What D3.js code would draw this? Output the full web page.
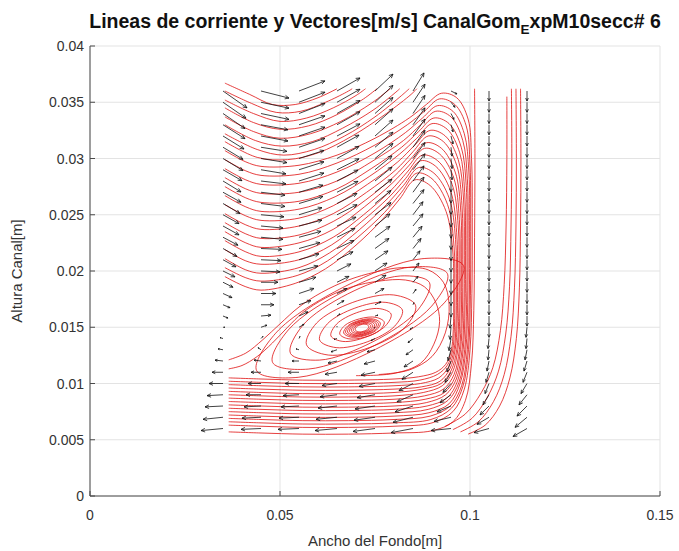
<!DOCTYPE html>
<html>
<head>
<meta charset="utf-8">
<script src="https://cdn.jsdelivr.net/npm/d3@7"></script>
<style>
  body { margin: 0; background: #ffffff; }
  text { font-family: "Liberation Sans", Arial, Helvetica, sans-serif; }
</style>
</head>
<body>
<svg id="chart" width="679" height="551"></svg>
<script>
// ---- axis ticks ----
const xTicks = [0, 0.05, 0.1, 0.15];
const xTickLabels = ["0", "0.05", "0.1", "0.15"];
const yTicks = [0, 0.005, 0.01, 0.015, 0.02, 0.025, 0.03, 0.035, 0.04];
const yTickLabels = ["0", "0.005", "0.01", "0.015", "0.02", "0.025", "0.03", "0.035", "0.04"];

// ---- velocity vectors [m/s] measured on verticals ----
const quiverX = [0.035, 0.045, 0.055, 0.065, 0.075, 0.085, 0.095, 0.105, 0.115];
const quiverY = [0.006, 0.007, 0.008, 0.009, 0.010, 0.011, 0.012, 0.013, 0.014, 0.015,
                 0.016, 0.017, 0.018, 0.019, 0.020, 0.021, 0.022, 0.023, 0.024, 0.025,
                 0.026, 0.027, 0.028, 0.029, 0.030, 0.031, 0.032, 0.033, 0.034, 0.035, 0.036];
const quiverU = [
  [-0.22,-0.20,-0.18,-0.16,-0.14,-0.11,-0.08,-0.05,-0.03,0.02,0.05,0.07,0.09,0.10,0.12,0.13,0.14,0.15,0.16,0.16,0.17,0.18,0.18,0.19,0.20,0.20,0.21,0.22,0.22,0.23,0.24],
  [-0.20,-0.19,-0.17,-0.15,-0.13,-0.10,-0.07,-0.03,0.02,0.06,0.10,0.13,0.15,0.17,0.19,0.20,0.21,0.22,0.22,0.23,0.24,0.24,0.25,0.25,0.26,0.26,0.27,0.27,0.28,0.28,0.28],
  [-0.21,-0.20,-0.18,-0.16,-0.14,-0.11,-0.07,-0.03,0.01,0.05,0.09,0.12,0.15,0.17,0.19,0.20,0.21,0.22,0.23,0.23,0.24,0.24,0.25,0.25,0.25,0.26,0.26,0.26,0.26,0.26,0.26],
  [-0.22,-0.21,-0.19,-0.17,-0.15,-0.12,-0.09,-0.06,-0.03,0.00,0.03,0.07,0.10,0.12,0.14,0.16,0.17,0.18,0.19,0.20,0.20,0.21,0.21,0.22,0.22,0.22,0.23,0.23,0.23,0.23,0.23],
  [-0.22,-0.21,-0.20,-0.18,-0.16,-0.14,-0.11,-0.08,-0.04,-0.01,0.03,0.06,0.09,0.11,0.12,0.13,0.14,0.15,0.15,0.16,0.16,0.17,0.17,0.17,0.18,0.18,0.18,0.18,0.18,0.18,0.18],
  [-0.22,-0.20,-0.18,-0.16,-0.14,-0.11,-0.09,-0.07,-0.05,-0.03,-0.01,0.01,0.03,0.05,0.06,0.07,0.08,0.09,0.10,0.10,0.11,0.11,0.11,0.12,0.12,0.12,0.12,0.12,0.12,0.12,0.11],
  [-0.20,-0.17,-0.14,-0.11,-0.08,-0.06,-0.04,-0.03,-0.02,-0.01,-0.01,0.00,0.00,0.00,0.00,0.00,0.00,0.00,0.00,0.00,0.00,0.00,0.00,0.01,0.01,0.01,0.02,0.02,0.03,0.04,0.06],
  [-0.15,-0.12,-0.09,-0.06,-0.04,-0.03,-0.02,-0.01,-0.01,0.00,0.00,0.00,0.00,0.00,0.00,0.00,0.00,0.00,0.00,0.00,0.00,0.00,0.00,0.00,0.00,0.00,0.00,0.00,0.00,0.00,0.00],
  [-0.14,-0.12,-0.10,-0.08,-0.06,-0.04,-0.03,-0.02,-0.01,-0.01,0.00,0.00,0.00,0.00,0.00,0.00,0.00,0.00,0.00,0.00,0.00,0.00,0.00,0.00,0.00,0.00,0.00,0.00,0.00,0.00,0.00]
];
const quiverV = [
  [-0.007,-0.007,-0.003,-0.003,0,0,0.003,0.003,0.003,0,-0.007,-0.010,-0.014,-0.017,-0.020,-0.024,-0.027,-0.027,-0.030,-0.030,-0.034,-0.034,-0.037,-0.037,-0.041,-0.041,-0.044,-0.047,-0.051,-0.054,-0.057],
  [-0.003,-0.003,-0.003,0,0,0,0.003,0.007,0.007,0.007,0.003,0,0,0,-0.003,-0.003,-0.003,-0.007,-0.007,-0.007,-0.010,-0.010,-0.010,-0.014,-0.014,-0.014,-0.017,-0.017,-0.020,-0.020,-0.024],
  [-0.003,-0.003,-0.003,-0.003,0,0,0,0.003,0.007,0.010,0.014,0.014,0.017,0.017,0.017,0.020,0.020,0.020,0.020,0.024,0.024,0.024,0.027,0.027,0.027,0.030,0.030,0.030,0.034,0.034,0.034],
  [-0.007,-0.007,-0.007,-0.007,-0.007,-0.007,-0.007,-0.007,-0.003,0.003,0.007,0.014,0.017,0.020,0.024,0.027,0.027,0.030,0.030,0.034,0.034,0.037,0.037,0.037,0.041,0.041,0.041,0.044,0.044,0.044,0.044],
  [-0.010,-0.010,-0.010,-0.010,-0.010,-0.010,-0.010,-0.007,-0.007,-0.003,0.003,0.010,0.017,0.024,0.027,0.030,0.034,0.037,0.041,0.041,0.044,0.044,0.047,0.047,0.051,0.051,0.054,0.054,0.054,0.057,0.057],
  [-0.014,-0.017,-0.020,-0.024,-0.024,-0.024,-0.020,-0.017,-0.014,-0.007,0,0.007,0.014,0.020,0.027,0.030,0.034,0.037,0.041,0.044,0.047,0.051,0.051,0.054,0.054,0.057,0.057,0.057,0.061,0.061,0.061],
  [-0.007,-0.014,-0.020,-0.027,-0.030,-0.034,-0.037,-0.037,-0.041,-0.041,-0.041,-0.041,-0.041,-0.041,-0.041,-0.041,-0.041,-0.041,-0.041,-0.041,-0.037,-0.037,-0.037,-0.034,-0.034,-0.030,-0.027,-0.024,-0.020,-0.017,-0.010],
  [-0.014,-0.024,-0.030,-0.034,-0.034,-0.034,-0.034,-0.034,-0.034,-0.034,-0.034,-0.034,-0.034,-0.034,-0.034,-0.034,-0.034,-0.034,-0.034,-0.034,-0.034,-0.034,-0.034,-0.034,-0.034,-0.034,-0.034,-0.034,-0.034,-0.034,-0.034],
  [-0.027,-0.034,-0.034,-0.034,-0.034,-0.034,-0.034,-0.034,-0.034,-0.034,-0.034,-0.034,-0.034,-0.034,-0.034,-0.034,-0.034,-0.034,-0.034,-0.034,-0.034,-0.034,-0.034,-0.034,-0.034,-0.034,-0.034,-0.034,-0.034,-0.034,-0.034]
];
const quiverScale = 1 / 38; // seconds: arrow length [m] = velocity * scale

// ---- streamlines [x, y] in metres ----
const streamOpen = [
  // leaving through the free surface
  [[0.0355,0.0367],[0.0420,0.0357],[0.0480,0.0348],[0.0540,0.0348],[0.0600,0.0354],[0.0650,0.0362]],
  [[0.0355,0.0360],[0.0425,0.0349],[0.0490,0.0341],[0.0555,0.0342],[0.0620,0.0350],[0.0675,0.0359],[0.0690,0.0362]],
  [[0.0355,0.0352],[0.0430,0.0340],[0.0500,0.0333],[0.0570,0.0336],[0.0640,0.0345],[0.0700,0.0356],[0.0725,0.0362]],
  [[0.0355,0.0345],[0.0430,0.0332],[0.0500,0.0326],[0.0575,0.0329],[0.0650,0.0339],[0.0720,0.0353],[0.0755,0.0362]],
  [[0.0355,0.0337],[0.0430,0.0324],[0.0500,0.0318],[0.0580,0.0322],[0.0660,0.0333],[0.0740,0.0349],[0.0790,0.0362]],
  [[0.0355,0.0330],[0.0435,0.0316],[0.0505,0.0311],[0.0585,0.0315],[0.0665,0.0327],[0.0745,0.0343],[0.0805,0.0359],[0.0815,0.0362]],
  [[0.0355,0.0322],[0.0440,0.0308],[0.0510,0.0303],[0.0590,0.0308],[0.0670,0.0320],[0.0750,0.0337],[0.0820,0.0356],[0.0840,0.0362]],
  [[0.0355,0.0315],[0.0440,0.0301],[0.0520,0.0299],[0.0600,0.0305],[0.0690,0.0320],[0.0780,0.0340],[0.0845,0.0357],[0.0860,0.0362]],
  // turning over the top, down the right wall and back along the bed
  [[0.0355,0.0307],[0.0410,0.0297],[0.0450,0.0293],[0.0550,0.0294],[0.0650,0.0303],[0.0750,0.0318],[0.0840,0.0336],[0.0885,0.0348],[0.0925,0.0358],[0.0965,0.0354],[0.0995,0.0335],[0.1004,0.0300],[0.1006,0.0240],[0.1005,0.0180],[0.1000,0.0130],[0.0985,0.0095],[0.0955,0.0075],[0.0900,0.0065],[0.0800,0.0062],[0.0680,0.0061],[0.0560,0.0061],[0.0450,0.0062],[0.0365,0.0063]],
  [[0.0355,0.0299],[0.0410,0.0289],[0.0450,0.0285],[0.0550,0.0286],[0.0650,0.0296],[0.0750,0.0312],[0.0835,0.0330],[0.0880,0.0342],[0.0920,0.0353],[0.0960,0.0348],[0.0990,0.0329],[0.1000,0.0294],[0.1002,0.0235],[0.1001,0.0178],[0.0996,0.0130],[0.0981,0.0097],[0.0951,0.0078],[0.0897,0.0068],[0.0800,0.0065],[0.0680,0.0064],[0.0560,0.0064],[0.0450,0.0065],[0.0365,0.0066]],
  [[0.0355,0.0291],[0.0410,0.0281],[0.0450,0.0277],[0.0550,0.0278],[0.0650,0.0288],[0.0750,0.0305],[0.0830,0.0323],[0.0875,0.0336],[0.0915,0.0347],[0.0955,0.0342],[0.0985,0.0322],[0.0997,0.0288],[0.0999,0.0230],[0.0998,0.0175],[0.0993,0.0130],[0.0978,0.0098],[0.0948,0.0080],[0.0895,0.0071],[0.0800,0.0068],[0.0680,0.0067],[0.0560,0.0067],[0.0450,0.0068],[0.0365,0.0069]],
  [[0.0355,0.0283],[0.0410,0.0273],[0.0450,0.0269],[0.0550,0.0270],[0.0650,0.0280],[0.0745,0.0298],[0.0825,0.0316],[0.0870,0.0330],[0.0910,0.0342],[0.0950,0.0337],[0.0981,0.0316],[0.0993,0.0282],[0.0995,0.0226],[0.0994,0.0172],[0.0989,0.0130],[0.0974,0.0100],[0.0945,0.0082],[0.0892,0.0074],[0.0800,0.0071],[0.0680,0.0070],[0.0560,0.0070],[0.0450,0.0071],[0.0365,0.0072]],
  [[0.0355,0.0275],[0.0410,0.0265],[0.0450,0.0261],[0.0550,0.0262],[0.0650,0.0273],[0.0740,0.0291],[0.0820,0.0310],[0.0865,0.0324],[0.0905,0.0336],[0.0945,0.0331],[0.0977,0.0310],[0.0990,0.0276],[0.0992,0.0222],[0.0991,0.0170],[0.0986,0.0130],[0.0971,0.0101],[0.0942,0.0085],[0.0890,0.0077],[0.0800,0.0074],[0.0680,0.0073],[0.0560,0.0073],[0.0450,0.0074],[0.0365,0.0075]],
  [[0.0355,0.0267],[0.0410,0.0257],[0.0450,0.0253],[0.0550,0.0255],[0.0645,0.0266],[0.0735,0.0284],[0.0815,0.0304],[0.0860,0.0318],[0.0900,0.0331],[0.0940,0.0326],[0.0973,0.0305],[0.0986,0.0270],[0.0988,0.0218],[0.0987,0.0168],[0.0982,0.0130],[0.0967,0.0102],[0.0939,0.0087],[0.0887,0.0080],[0.0800,0.0077],[0.0680,0.0076],[0.0560,0.0076],[0.0450,0.0077],[0.0365,0.0078]],
  [[0.0355,0.0259],[0.0410,0.0249],[0.0450,0.0245],[0.0550,0.0247],[0.0640,0.0258],[0.0730,0.0277],[0.0810,0.0297],[0.0855,0.0312],[0.0895,0.0325],[0.0935,0.0320],[0.0969,0.0299],[0.0983,0.0264],[0.0985,0.0214],[0.0984,0.0165],[0.0979,0.0130],[0.0964,0.0104],[0.0936,0.0090],[0.0885,0.0083],[0.0800,0.0080],[0.0680,0.0079],[0.0560,0.0079],[0.0450,0.0080],[0.0365,0.0081]],
  [[0.0355,0.0251],[0.0410,0.0241],[0.0450,0.0237],[0.0550,0.0240],[0.0640,0.0251],[0.0728,0.0270],[0.0805,0.0290],[0.0850,0.0306],[0.0890,0.0320],[0.0930,0.0315],[0.0965,0.0294],[0.0979,0.0258],[0.0981,0.0210],[0.0980,0.0162],[0.0975,0.0130],[0.0961,0.0106],[0.0933,0.0092],[0.0882,0.0086],[0.0800,0.0083],[0.0680,0.0082],[0.0560,0.0082],[0.0450,0.0083],[0.0365,0.0084]],
  [[0.0355,0.0243],[0.0410,0.0233],[0.0450,0.0229],[0.0550,0.0232],[0.0640,0.0244],[0.0725,0.0263],[0.0800,0.0284],[0.0845,0.0300],[0.0885,0.0314],[0.0925,0.0309],[0.0961,0.0288],[0.0976,0.0252],[0.0978,0.0205],[0.0977,0.0160],[0.0972,0.0130],[0.0958,0.0108],[0.0930,0.0095],[0.0880,0.0089],[0.0800,0.0086],[0.0680,0.0085],[0.0560,0.0085],[0.0450,0.0086],[0.0365,0.0087]],
  [[0.0355,0.0235],[0.0410,0.0225],[0.0450,0.0221],[0.0550,0.0225],[0.0640,0.0237],[0.0722,0.0257],[0.0795,0.0278],[0.0840,0.0294],[0.0880,0.0309],[0.0920,0.0304],[0.0957,0.0283],[0.0972,0.0246],[0.0974,0.0200],[0.0973,0.0158],[0.0968,0.0130],[0.0954,0.0110],[0.0927,0.0098],[0.0877,0.0092],[0.0800,0.0089],[0.0680,0.0088],[0.0560,0.0088],[0.0450,0.0089],[0.0365,0.0090]],
  [[0.0355,0.0227],[0.0410,0.0217],[0.0450,0.0213],[0.0550,0.0217],[0.0640,0.0230],[0.0720,0.0250],[0.0790,0.0271],[0.0835,0.0288],[0.0875,0.0303],[0.0915,0.0298],[0.0953,0.0277],[0.0969,0.0240],[0.0971,0.0196],[0.0970,0.0155],[0.0965,0.0130],[0.0951,0.0112],[0.0924,0.0100],[0.0875,0.0095],[0.0800,0.0092],[0.0680,0.0091],[0.0560,0.0091],[0.0450,0.0092],[0.0365,0.0093]],
  [[0.0355,0.0219],[0.0410,0.0209],[0.0450,0.0206],[0.0550,0.0210],[0.0635,0.0223],[0.0715,0.0244],[0.0785,0.0265],[0.0830,0.0282],[0.0870,0.0298],[0.0910,0.0293],[0.0949,0.0271],[0.0965,0.0234],[0.0967,0.0192],[0.0966,0.0153],[0.0961,0.0130],[0.0947,0.0113],[0.0921,0.0102],[0.0872,0.0097],[0.0800,0.0095],[0.0680,0.0094],[0.0560,0.0094],[0.0450,0.0095],[0.0365,0.0096]],
  [[0.0355,0.0211],[0.0410,0.0201],[0.0450,0.0198],[0.0550,0.0203],[0.0630,0.0216],[0.0710,0.0237],[0.0780,0.0259],[0.0825,0.0276],[0.0865,0.0292],[0.0905,0.0287],[0.0945,0.0265],[0.0962,0.0228],[0.0964,0.0188],[0.0963,0.0152],[0.0958,0.0130],[0.0944,0.0115],[0.0918,0.0105],[0.0870,0.0100],[0.0800,0.0098],[0.0680,0.0097],[0.0560,0.0097],[0.0450,0.0098],[0.0365,0.0099]],
  [[0.0355,0.0203],[0.0410,0.0194],[0.0450,0.0191],[0.0545,0.0196],[0.0625,0.0209],[0.0705,0.0230],[0.0775,0.0252],[0.0820,0.0270],[0.0860,0.0287],[0.0900,0.0282],[0.0941,0.0259],[0.0958,0.0222],[0.0960,0.0184],[0.0959,0.0150],[0.0954,0.0129],[0.0940,0.0116],[0.0914,0.0108],[0.0868,0.0103],[0.0800,0.0101],[0.0680,0.0100],[0.0560,0.0100],[0.0450,0.0101],[0.0365,0.0102]],
  [[0.0355,0.0195],[0.0410,0.0186],[0.0450,0.0183],[0.0540,0.0189],[0.0620,0.0202],[0.0700,0.0223],[0.0770,0.0246],[0.0815,0.0264],[0.0855,0.0281],[0.0895,0.0276],[0.0937,0.0253],[0.0955,0.0216],[0.0957,0.0180],[0.0956,0.0148],[0.0950,0.0128],[0.0936,0.0117],[0.0910,0.0110],[0.0865,0.0106],[0.0800,0.0104],[0.0680,0.0103],[0.0560,0.0103],[0.0450,0.0104],[0.0365,0.0105]],
  // entering at the surface next to the right wall
  [[0.1012,0.0362],[0.1013,0.0300],[0.1012,0.0230],[0.1010,0.0165],[0.1004,0.0118],[0.0988,0.0085],[0.0955,0.0066],[0.0900,0.0058],[0.0800,0.0056],[0.0680,0.0055],[0.0560,0.0055],[0.0450,0.0056],[0.0365,0.0057]],
  // wall jet on the right
  [[0.1133,0.0362],[0.1134,0.0300],[0.1133,0.0240],[0.1130,0.0185],[0.1122,0.0140],[0.1105,0.0105],[0.1078,0.0080],[0.1040,0.0063],[0.0995,0.0055]],
  [[0.1121,0.0362],[0.1122,0.0300],[0.1121,0.0240],[0.1117,0.0185],[0.1108,0.0142],[0.1090,0.0108],[0.1062,0.0084],[0.1022,0.0066],[0.0975,0.0057]],
  [[0.1109,0.0362],[0.1110,0.0300],[0.1108,0.0240],[0.1104,0.0186],[0.1094,0.0144],[0.1075,0.0111],[0.1046,0.0088],[0.1005,0.0069],[0.0955,0.0059]],
  [[0.1097,0.0355],[0.1097,0.0300],[0.1095,0.0240],[0.1090,0.0188],[0.1080,0.0147],[0.1060,0.0114],[0.1030,0.0092],[0.0988,0.0073],[0.0935,0.0062]],
  // spiral arms feeding the vortex
  [[0.0365,0.0113],[0.0400,0.0116],[0.0440,0.0124],[0.0480,0.0136],[0.0520,0.0150],[0.0560,0.0163],[0.0620,0.0176],[0.0690,0.0186],[0.0760,0.0191],[0.0830,0.0192],[0.0880,0.0186],[0.0910,0.0172],[0.0920,0.0155],[0.0905,0.0135],[0.0870,0.0118],[0.0800,0.0109],[0.0700,0.0107]],
  [[0.0365,0.0121],[0.0410,0.0127],[0.0455,0.0139],[0.0500,0.0153],[0.0550,0.0168],[0.0610,0.0181],[0.0680,0.0192],[0.0750,0.0199],[0.0820,0.0203],[0.0890,0.0201],[0.0930,0.0190],[0.0945,0.0170],[0.0935,0.0145],[0.0900,0.0124],[0.0840,0.0112],[0.0760,0.0108]]
];
// closed orbits around the vortex core
const streamLoops = [
  [[0.07336,0.01509],[0.07301,0.01483],[0.07182,0.01463],[0.07049,0.01460],[0.06980,0.01477],[0.07015,0.01503],[0.07134,0.01523],[0.07267,0.01526]],
  [[0.07387,0.01514],[0.07340,0.01482],[0.07187,0.01457],[0.07017,0.01453],[0.06929,0.01472],[0.06976,0.01504],[0.07129,0.01529],[0.07300,0.01533]],
  [[0.07438,0.01518],[0.07380,0.01480],[0.07192,0.01450],[0.06984,0.01445],[0.06878,0.01468],[0.06936,0.01506],[0.07124,0.01536],[0.07332,0.01541]],
  [[0.07489,0.01523],[0.07421,0.01478],[0.07199,0.01442],[0.06953,0.01435],[0.06828,0.01463],[0.06895,0.01508],[0.07117,0.01545],[0.07363,0.01551]],
  [[0.07539,0.01528],[0.07458,0.01478],[0.07202,0.01437],[0.06920,0.01429],[0.06777,0.01458],[0.06858,0.01508],[0.07114,0.01549],[0.07396,0.01557]],
  [[0.07590,0.01532],[0.07499,0.01476],[0.07208,0.01430],[0.06888,0.01421],[0.06726,0.01454],[0.06817,0.01510],[0.07108,0.01556],[0.07428,0.01565]],
  [[0.07641,0.01537],[0.07538,0.01475],[0.07213,0.01424],[0.06855,0.01413],[0.06675,0.01449],[0.06778,0.01511],[0.07103,0.01562],[0.07461,0.01573]],
  [[0.07743,0.01546],[0.07618,0.01472],[0.07223,0.01411],[0.06790,0.01398],[0.06573,0.01440],[0.06698,0.01514],[0.07093,0.01575],[0.07526,0.01588]],
  [[0.07924,0.01617],[0.07775,0.01512],[0.07249,0.01411],[0.06655,0.01374],[0.06340,0.01423],[0.06489,0.01528],[0.07015,0.01629],[0.07609,0.01666]],
  [[0.08221,0.01654],[0.08016,0.01509],[0.07294,0.01370],[0.06477,0.01319],[0.06043,0.01386],[0.06248,0.01531],[0.06970,0.01670],[0.07787,0.01721]],
  [[0.08567,0.01696],[0.08299,0.01502],[0.07348,0.01319],[0.06270,0.01253],[0.05697,0.01344],[0.05965,0.01538],[0.06916,0.01721],[0.07994,0.01787]],
  [[0.08934,0.01897],[0.08626,0.01653],[0.07428,0.01368],[0.06040,0.01208],[0.05276,0.01267],[0.05584,0.01511],[0.06782,0.01796],[0.08170,0.01956]],
  [[0.09403,0.01978],[0.08991,0.01688],[0.07475,0.01336],[0.05742,0.01128],[0.04807,0.01186],[0.05219,0.01476],[0.06735,0.01828],[0.08468,0.02036]],
  [[0.09825,0.02050],[0.09324,0.01717],[0.07523,0.01305],[0.05477,0.01055],[0.04385,0.01114],[0.04886,0.01447],[0.06687,0.01859],[0.08733,0.02109]]
];

// ---- layout ----
const W = 679, H = 551;
const plot = { left: 90, right: 660, top: 46, bottom: 496 };
const x = d3.scaleLinear().domain([0, 0.15]).range([plot.left, plot.right]);
const y = d3.scaleLinear().domain([0, 0.04]).range([plot.bottom, plot.top]);

const svg = d3.select("#chart");
svg.append("rect").attr("width", W).attr("height", H).attr("fill", "#ffffff");

// grid
const grid = svg.append("g").attr("stroke", "#e3e3e3").attr("stroke-width", 1);
grid.selectAll("line.gx").data(xTicks).join("line").attr("class", "gx")
  .attr("x1", d => x(d)).attr("x2", d => x(d)).attr("y1", y(0)).attr("y2", y(0.04));
grid.selectAll("line.gy").data(yTicks).join("line").attr("class", "gy")
  .attr("x1", x(0)).attr("x2", x(0.15)).attr("y1", d => y(d)).attr("y2", d => y(d));

// streamlines
const lineGen = d3.line().x(d => x(d[0])).y(d => y(d[1])).curve(d3.curveCatmullRom.alpha(0.5));
const loopGen = d3.line().x(d => x(d[0])).y(d => y(d[1])).curve(d3.curveCatmullRomClosed.alpha(0.5));
const sl = svg.append("g").attr("fill", "none").attr("stroke", "#e01010")
  .attr("stroke-width", 1).attr("stroke-opacity", 0.8);
sl.selectAll("path.open").data(streamOpen).join("path").attr("class", "open").attr("d", lineGen);
sl.selectAll("path.loop").data(streamLoops).join("path").attr("class", "loop").attr("d", loopGen);

// quiver arrows
const arrows = [];
quiverX.forEach((qx, i) => {
  quiverY.forEach((qy, j) => {
    arrows.push({ x0: qx, y0: qy, x1: qx + quiverScale * quiverU[i][j], y1: qy + quiverScale * quiverV[i][j] });
  });
});
const qg = svg.append("g").attr("stroke", "#111").attr("stroke-width", 0.8).attr("fill", "none");
qg.selectAll("path").data(arrows).join("path").attr("d", a => {
  const X0 = x(a.x0), Y0 = y(a.y0), X1 = x(a.x1), Y1 = y(a.y1);
  const dx = X1 - X0, dy = Y1 - Y0, L = Math.hypot(dx, dy);
  if (L < 0.5) return `M${X0},${Y0}L${X0 + 0.5},${Y0}`;
  const ux = dx / L, uy = dy / L, h = Math.min(0.3 * L, 4), w = h * 0.45;
  const bx = X1 - ux * h, by = Y1 - uy * h;
  return `M${X0},${Y0}L${X1},${Y1}M${bx - uy * w},${by + ux * w}L${X1},${Y1}L${bx + uy * w},${by - ux * w}`;
});

// axes
const ax = svg.append("g").attr("stroke", "#4a4a4a").attr("stroke-width", 1).attr("fill", "none");
ax.append("line").attr("x1", x(0)).attr("x2", x(0.15)).attr("y1", y(0)).attr("y2", y(0));
ax.append("line").attr("x1", x(0)).attr("x2", x(0)).attr("y1", y(0)).attr("y2", y(0.04));
ax.selectAll("line.tx").data(xTicks).join("line").attr("class", "tx")
  .attr("x1", d => x(d)).attr("x2", d => x(d)).attr("y1", y(0)).attr("y2", y(0) - 5);
ax.selectAll("line.ty").data(yTicks).join("line").attr("class", "ty")
  .attr("x1", x(0)).attr("x2", x(0) + 5).attr("y1", d => y(d)).attr("y2", d => y(d));

const tickFont = 14;
svg.append("g").selectAll("text").data(xTicks).join("text")
  .attr("x", d => x(d)).attr("y", y(0) + 24).attr("text-anchor", "middle")
  .attr("font-size", tickFont).attr("fill", "#333")
  .text((d, i) => xTickLabels[i]);
svg.append("g").selectAll("text").data(yTicks).join("text")
  .attr("x", x(0) - 6).attr("y", d => y(d) + 5).attr("text-anchor", "end")
  .attr("font-size", tickFont).attr("fill", "#333")
  .text((d, i) => yTickLabels[i]);

// axis titles
svg.append("text").attr("x", (plot.left + plot.right) / 2).attr("y", 546)
  .attr("text-anchor", "middle").attr("font-size", 15).attr("fill", "#333")
  .text("Ancho del Fondo[m]");
svg.append("text").attr("transform", `translate(22,${(plot.top + plot.bottom) / 2}) rotate(-90)`)
  .attr("text-anchor", "middle").attr("font-size", 15).attr("fill", "#333")
  .text("Altura Canal[m]");

// title with subscript
const title = svg.append("text").attr("x", (plot.left + plot.right) / 2).attr("y", 28)
  .attr("text-anchor", "middle").attr("font-size", 19.5).attr("font-weight", "bold").attr("fill", "#111");
title.append("tspan").text("Lineas de corriente y Vectores[m/s] CanalGom");
title.append("tspan").attr("font-size", 13.5).attr("dy", 6).text("E");
title.append("tspan").attr("dy", -6).text("xpM10secc# 6");
</script>
</body>
</html>
